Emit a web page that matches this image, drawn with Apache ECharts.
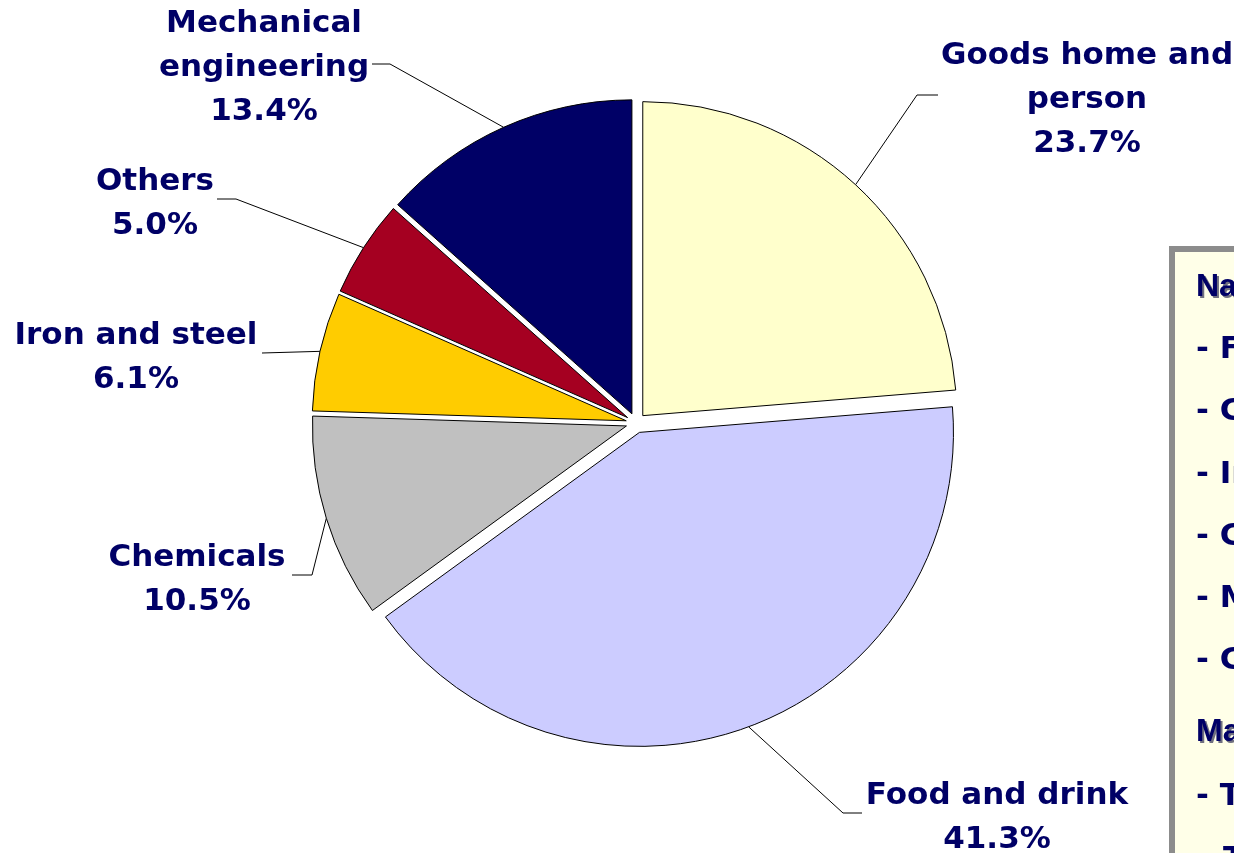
<!DOCTYPE html>
<html><head><meta charset="utf-8">
<script src="https://cdn.jsdelivr.net/npm/echarts@6/dist/echarts.min.js"></script>
<style>html,body{margin:0;padding:0;background:#fff}#chart{width:1234px;height:853px}</style>
</head><body><div id="chart"></div>
<script>
// ---- data ----
const categories = ['Goods home and\nperson', 'Food and drink', 'Chemicals', 'Iron and steel', 'Others', 'Mechanical\nengineering'];
const shares = [23.7, 41.3, 10.5, 6.1, 5.0, 13.4];
const sliceColors = ['#FFFFCC', '#CCCCFF', '#C0C0C0', '#FFCC00', '#A50021', '#000066'];
const boxHeadings = ['National market', 'Main customers'];
const boxItems1 = ['- Food and drink', '- Chemicals', '- Iron and steel', '- Cosmetics', '- Mechanical engineering', '- Construction'];
const boxItems2 = ['- Trade and', '  Transport'];

// ---- layout ----
const pieCenter = [636, 423];
const pieRadius = 314;
const explode = 10;
const labelCentres = [[1087, 100], [997, 818], [197, 580], [136, 358], [155, 204], [264, 68]];
const elbows = [[917, 95], [843, 813], [312, 575], [262, 353], [236, 199], [390, 64]];
const tails = [[938, 95], [862, 813], [292, 575], [262, 353], [217, 199], [372, 64]];

const chart = echarts.init(document.getElementById('chart'));

const graphics = [{
  type: 'rect', shape: { x: 1172, y: 249, width: 120, height: 700 },
  style: { fill: '#FFFFE8', stroke: '#8C8C8C', lineWidth: 6 }, z: 0
}];
const textEl = (txt, x, y, size, family, fill, z) => ({
  type: 'text', x: x, y: y, z: z,
  style: { text: txt, fontSize: size, fontWeight: 'bold', fontFamily: family, fill: fill,
    verticalAlign: 'middle' }
});
const heading = (txt, y) => {
  graphics.push(textEl(txt, 1198, y + 2, 32, 'Liberation Sans', '#707080', 2));
  graphics.push(textEl(txt, 1196, y, 32, 'Liberation Sans', '#000066', 3));
};
const item = (txt, x, y) => graphics.push(textEl(txt, x, y, 31, 'DejaVu Sans', '#000066', 3));
const rowY1 = [350, 412, 475, 537, 599, 661];
heading(boxHeadings[0], 287);
boxItems1.forEach((t, i) => item(t, 1196, rowY1[i]));
heading(boxHeadings[1], 732);
item(boxItems2[0], 1196, 797);
item(boxItems2[1].trim(), 1223, 860);

const labelFont = {
  color: '#000066', fontFamily: 'DejaVu Sans', fontWeight: 'bold', fontSize: 31, lineHeight: 44
};

chart.setOption({
  animation: false,
  backgroundColor: '#ffffff',
  graphic: graphics,
  series: [{
    // the exploded slices
    type: 'pie',
    center: pieCenter,
    radius: pieRadius,
    startAngle: 90,
    clockwise: true,
    selectedMode: 'multiple',
    selectedOffset: explode,
    emphasis: { disabled: true },
    itemStyle: { borderColor: '#000000', borderWidth: 1 },
    label: { show: false },
    labelLine: { show: false },
    data: categories.map((n, i) => ({
      name: n, value: shares[i], selected: true,
      itemStyle: { color: sliceColors[i] }
    }))
  }, {
    // same data, transparent: carries the labels and leader lines
    type: 'pie',
    center: pieCenter,
    radius: pieRadius,
    startAngle: 90,
    clockwise: true,
    silent: true,
    avoidLabelOverlap: false,
    emphasis: { disabled: true },
    itemStyle: { color: 'rgba(0,0,0,0)', borderWidth: 0 },
    label: Object.assign({
      show: true, position: 'outside',
      formatter: p => p.name + '\n' + p.value.toFixed(1) + '%'
    }, labelFont),
    labelLine: { show: true, lineStyle: { color: '#000000', width: 1 } },
    labelLayout: function (params) {
      const i = params.dataIndex;
      const p0 = params.labelLinePoints[0];
      const vx = p0[0] - pieCenter[0], vy = p0[1] - pieCenter[1];
      const len = Math.sqrt(vx * vx + vy * vy) || 1;
      const start = [p0[0] + vx / len * explode, p0[1] + vy / len * explode];
      return {
        x: labelCentres[i][0], y: labelCentres[i][1],
        align: 'center', verticalAlign: 'middle',
        labelLinePoints: [start, elbows[i], tails[i]]
      };
    },
    data: categories.map((n, i) => ({ name: n, value: shares[i] }))
  }]
});
</script></body></html>
